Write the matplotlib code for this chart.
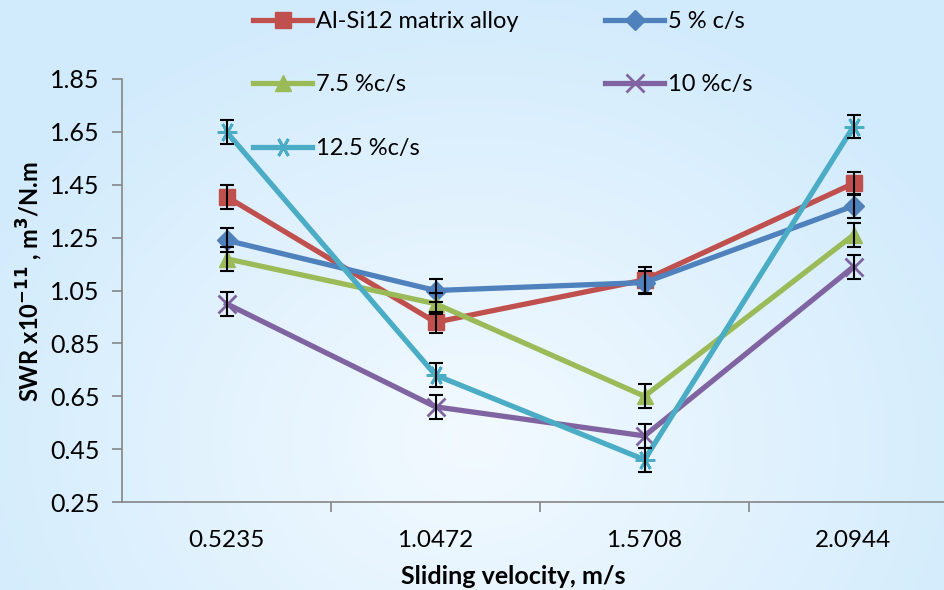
import numpy as np
import matplotlib
matplotlib.use('Agg')
import matplotlib.pyplot as plt

plt.rcParams['font.family'] = ['Lato', 'DejaVu Sans']

velocity = ['0.5235', '1.0472', '1.5708', '2.0944']
labels = ['Al-Si12 matrix alloy', '5 % c/s', '7.5 %c/s', '10 %c/s', '12.5 %c/s']

alsi12 = [1.405, 0.93, 1.09, 1.455]
cs5 = [1.24, 1.05, 1.08, 1.37]
cs75 = [1.17, 1.00, 0.65, 1.26]
cs10 = [1.00, 0.61, 0.50, 1.14]
cs125 = [1.65, 0.73, 0.41, 1.67]

err_alsi12 = [0.045, 0.04, 0.05, 0.045]
err_cs5 = [0.045, 0.045, 0.045, 0.045]
err_cs75 = [0.045, 0.04, 0.045, 0.045]
err_cs10 = [0.045, 0.045, 0.045, 0.045]
err_cs125 = [0.045, 0.045, 0.045, 0.045]

series = [alsi12, cs5, cs75, cs10, cs125]
errs = [err_alsi12, err_cs5, err_cs75, err_cs10, err_cs125]
colors = ['#C0504D', '#4F81BD', '#9BBB59', '#8064A2', '#4BACC6']
markers = ['s', 'D', '^', 'x', (6, 2, 90)]
msizes = [12, 10, 12, 13, 14]

fig = plt.figure(figsize=(9.45, 5.9), dpi=100)

# light blue gradient background
bg = fig.add_axes([0, 0, 1, 1], zorder=-10)
yy, xx = np.mgrid[0:1:200j, 0:1:200j]
d = np.sqrt(((xx - 0.5) / 0.75) ** 2 + ((yy - 0.25) / 1.0) ** 2)
c0 = np.array([0.95, 0.98, 1.0])
c1 = np.array([0.82, 0.92, 0.99])
t = np.clip(d / 0.8, 0, 1)[..., None]
img = c0 * (1 - t) + c1 * t
bg.imshow(img, extent=[0, 1, 0, 1], aspect='auto', origin='lower')
bg.axis('off')

ax = fig.add_axes([122 / 945, 1 - 502 / 590, 836 / 945, (502 - 79) / 590])
ax.patch.set_alpha(0)
x = np.arange(len(velocity))
handles = []
for ys, er, col, mk, ms, lab in zip(series, errs, colors, markers, msizes, labels):
    ax.errorbar(x, ys, yerr=er, fmt='none', ecolor='black', elinewidth=1.5,
                capsize=5, capthick=1.5, zorder=3)
    thin = mk == 'x' or isinstance(mk, tuple)
    h, = ax.plot(x, ys, color=col, lw=3.8, marker=mk, ms=ms, mew=2 if thin else 1,
                 mec=col, label=lab, zorder=2)
    handles.append(h)

ax.set_xlim(-0.5, 3.5)
ax.set_ylim(0.25, 1.85)
ax.set_yticks(np.arange(0.25, 1.86, 0.2))
ax.set_yticklabels(['%.2f' % v for v in np.arange(0.25, 1.86, 0.2)])
ax.set_xticks(x)
ax.set_xticklabels(velocity)
ax.set_xticks(np.arange(0.5, 3.0, 1.0), minor=True)
ax.tick_params(axis='x', which='major', length=0, pad=20, labelsize=17.5)
ax.tick_params(axis='x', which='minor', length=7, color='#868686', width=1.2)
ax.tick_params(axis='y', length=7, color='#868686', width=1.2, pad=9, labelsize=18)
for s in ['top', 'right']:
    ax.spines[s].set_visible(False)
for s in ['left', 'bottom']:
    ax.spines[s].set_color('#868686')
    ax.spines[s].set_linewidth(1.2)

fig.text(30 / 945, 1 - 282 / 590, 'SWR x10$^{\\mathbf{-11}}$ , m$^\\mathbf{3}$/N.m', fontsize=17,
         fontweight='bold', rotation=90, ha='center', va='center')
fig.text(513 / 945, 1 - 577 / 590, 'Sliding velocity, m/s', fontsize=18,
         fontweight='bold', ha='center', va='center')

order = [0, 2, 4, 1, 3]
fig.legend([handles[i] for i in order], [labels[i] for i in order], ncol=2,
           loc='upper left', bbox_to_anchor=(253 / 945, 1 - 11 / 590), frameon=False,
           fontsize=17, handlelength=2.5, handletextpad=0.15, labelspacing=1.8,
           columnspacing=3.7, borderpad=0, borderaxespad=0)

fig.savefig('out.png', dpi=100)
